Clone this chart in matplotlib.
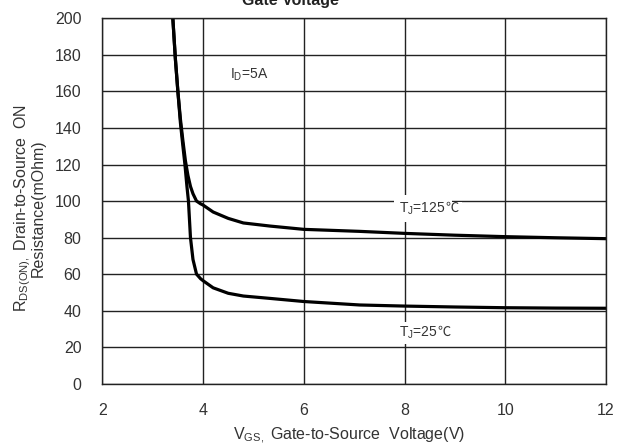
import matplotlib
matplotlib.use("Agg")
import matplotlib.pyplot as plt

plt.rcParams["font.family"] = ["Liberation Sans", "DejaVu Sans"]
plt.rcParams["mathtext.fontset"] = "custom"
plt.rcParams["mathtext.rm"] = "Liberation Sans"

# Curves
vgs_125 = [3.40, 3.45, 3.50, 3.55, 3.60, 3.65, 3.70, 3.75, 3.80, 3.87, 3.95, 4.0,
           4.2, 4.5, 4.8, 5.33, 6, 7.11, 8, 9, 10, 11, 12]
rds_125 = [200, 178, 160, 145, 133, 122, 114, 108, 104, 100, 98.5, 97.8,
           94, 90.5, 88, 86.3, 84.5, 83.4, 82.3, 81.3, 80.5, 79.9, 79.4]

vgs_25 = [3.40, 3.45, 3.50, 3.55, 3.60, 3.64, 3.68, 3.71, 3.75, 3.80, 3.87, 3.95,
          4.0, 4.2, 4.5, 4.8, 5.33, 6, 7.11, 8, 9, 10, 11, 12]
rds_25 = [200, 178, 160, 143, 130, 120, 108, 100, 80, 68, 60, 57.5,
          56.4, 52.5, 49.5, 48, 46.7, 45, 43.1, 42.5, 42, 41.6, 41.4, 41.3]

x_ticks = [2, 4, 6, 8, 10, 12]
y_ticks = list(range(0, 201, 20))

fig = plt.figure(figsize=(6.19, 4.48), dpi=100)
ax = fig.add_axes([0.1653, 0.1435, 0.8137, 0.8155])

ax.plot(vgs_125, rds_125, color="black", lw=2.3, solid_capstyle="butt")
ax.plot(vgs_25, rds_25, color="black", lw=2.3, solid_capstyle="butt")

ax.set_xlim(2, 12)
ax.set_ylim(0, 200)
ax.set_xticks(x_ticks)
ax.set_yticks(y_ticks)
ax.grid(True, color="#222222", lw=1.0)
ax.set_axisbelow(True)
for s in ax.spines.values():
    s.set_color("#222222")
    s.set_linewidth(1.0)
ax.tick_params(length=0, labelsize=11.5, labelcolor="#333333")
ax.tick_params(axis="y", pad=15)
ax.tick_params(axis="x", pad=14)

ax.text(4.53, 169, "I$_\\mathregular{D}$=5A", fontsize=10, ha="left", va="center",
        color="#333333")


def temp_label(x, y, num, pad):
    t = ax.text(x, y, "T$_\\mathregular{J}$=" + num, fontsize=10, ha="left",
                va="center", color="#333333", zorder=5,
                bbox=dict(facecolor="white", edgecolor="none", pad=pad))
    ax.annotate("\u2103 ", xy=(1, 0.5), xycoords=t, ha="left", va="center",
                fontsize=9.5, color="#333333", family="Noto Sans CJK SC", zorder=6,
                bbox=dict(facecolor="white", edgecolor="none",
                          boxstyle="square,pad=0"))


temp_label(7.9, 96, "125", 4)
temp_label(7.9, 28, "25", 2)

fig.text(349 / 619, 1 - 436 / 448, "V$_\\mathregular{GS,}$ Gate-to-Source  Voltage(V)",
         fontsize=11.5, ha="center", va="center", color="#333333")
fig.text(29 / 619, 1 - 208 / 448,
         "R$_\\mathregular{DS(ON),}$ Drain-to-Source  ON\nResistance(mOhm)",
         fontsize=11.5, ha="center", va="center", rotation=90, color="#333333",
         linespacing=0.85)
fig.text(290 / 619, 1 - 5 / 448, "Gate Voltage", fontsize=11.5, fontweight="bold",
         ha="center", va="baseline", color="#222222")

fig.savefig("out.png", dpi=100)
